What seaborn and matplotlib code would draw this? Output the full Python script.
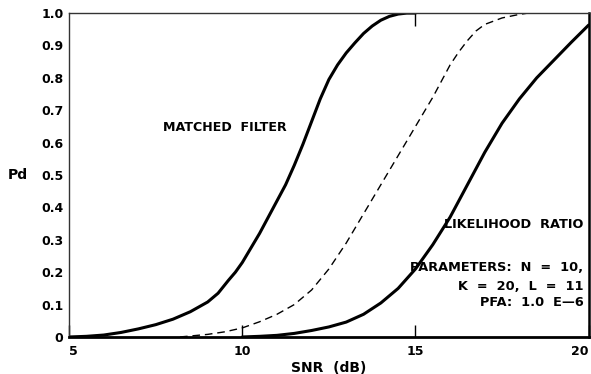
import numpy as np
import pandas as pd
import matplotlib
matplotlib.use("Agg")
import matplotlib.pyplot as plt
import seaborn as sns

# curve values
mf_snr = [5, 5.5, 6, 6.5, 7, 7.5, 8, 8.5, 9, 9.3, 9.6, 9.8, 10, 10.25, 10.5, 10.75, 11, 11.25, 11.5,
          11.75, 12, 12.25, 12.5, 12.75, 13, 13.25, 13.5, 13.75, 14, 14.25, 14.5, 14.75, 15]
mf_pd = [0.0, 0.002, 0.006, 0.014, 0.025, 0.038, 0.055, 0.078, 0.108, 0.135, 0.175, 0.2, 0.23, 0.275, 0.32,
         0.37, 0.42, 0.47, 0.53, 0.595, 0.665, 0.735, 0.795, 0.84, 0.877, 0.908, 0.937, 0.96, 0.978, 0.99,
         0.997, 1.0, 1.0]

mid_snr = [8.2, 8.5, 9, 9.5, 10, 10.5, 11, 11.5, 12, 12.5, 13, 13.5, 14, 14.5, 15, 15.5, 16, 16.25,
           16.5, 16.75, 17, 17.5, 18, 18.25]
mid_pd = [0.0, 0.003, 0.008, 0.016, 0.028, 0.047, 0.07, 0.1, 0.145, 0.21, 0.29, 0.38, 0.47, 0.56, 0.65,
          0.74, 0.84, 0.88, 0.915, 0.945, 0.965, 0.985, 0.996, 1.0]

lr_snr = [10, 10.5, 11, 11.5, 12, 12.5, 13, 13.5, 14, 14.5, 15, 15.5, 16, 16.5, 17, 17.5, 18, 18.5,
          19, 19.5, 20]
lr_pd = [0.0, 0.002, 0.005, 0.011, 0.02, 0.031, 0.046, 0.07, 0.105, 0.15, 0.21, 0.285, 0.37, 0.47, 0.57,
         0.66, 0.735, 0.8, 0.855, 0.91, 0.963]

x_ticks = [5, 10, 15, 20]
y_ticks = [0, 0.1, 0.2, 0.3, 0.4, 0.5, 0.6, 0.7, 0.8, 0.9, 1.0]
y_labels = ["0", "0.1", "0.2", "0.3", "0.4", "0.5", "0.6", "0.7", "0.8", "0.9", "1.0"]

sns.set_style("white")
plt.rcParams["font.family"] = ["DejaVu Sans"]
plt.rcParams["font.weight"] = "bold"
for key in ["text.color", "axes.labelcolor", "xtick.color", "ytick.color"]:
    plt.rcParams[key] = "black"

fig = plt.figure(figsize=(5.91, 3.74), dpi=100)
ax = fig.add_axes([0.117, 0.099, 0.879, 0.866])

mf = pd.DataFrame({"snr": mf_snr, "pd": mf_pd})
mid = pd.DataFrame({"snr": mid_snr, "pd": mid_pd})
lr = pd.DataFrame({"snr": lr_snr, "pd": lr_pd})

sns.lineplot(data=mf, x="snr", y="pd", ax=ax, color="black", lw=2.2)
sns.lineplot(data=mid, x="snr", y="pd", ax=ax, color="black", lw=1.0, linestyle=(0, (5.5, 3.5)))
sns.lineplot(data=lr, x="snr", y="pd", ax=ax, color="black", lw=2.2)

ax.set_xlim(5, 20)
ax.set_ylim(0, 1.0)
ax.set_xticks(x_ticks)
xl = ax.set_xticklabels([str(t) for t in x_ticks], fontsize=9, fontweight="bold")
xl[0].set_ha("left")
xl[-1].set_ha("right")
ax.set_yticks(y_ticks)
ax.set_yticklabels(y_labels, fontsize=9, fontweight="bold")
ax.tick_params(axis="x", bottom=True, direction="in", length=9, width=1, pad=6, color="black")
ax.tick_params(axis="y", length=0, pad=4)

top = ax.secondary_xaxis("top")
top.set_xticks([15])
top.set_xticklabels([])
top.tick_params(top=True, direction="in", length=9, width=1, color="black")
top.spines["top"].set_visible(False)

ax.set_xlabel("SNR  (dB)", fontsize=10, fontweight="bold", va="center")
ax.xaxis.set_label_coords(0.5, -0.097)
ax.set_ylabel("Pd", fontsize=10, fontweight="bold", rotation=0, va="center", ha="center")
ax.yaxis.set_label_coords(-0.098, 0.5)

for side in ["left", "top"]:
    ax.spines[side].set_linewidth(1.0)
    ax.spines[side].set_color("#333333")
ax.spines["bottom"].set_linewidth(2.0)
ax.spines["bottom"].set_color("black")
ax.spines["right"].set_linewidth(1.8)
ax.spines["right"].set_color("black")

fs = 9.3
ax.text(7.7, 0.648, "MATCHED  FILTER", fontsize=9.1, fontweight="bold", va="center", ha="left")
ax.text(19.85, 0.348, "LIKELIHOOD  RATIO", fontsize=fs, fontweight="bold", va="center", ha="right")
ax.text(19.85, 0.215, "PARAMETERS:  N  =  10,", fontsize=fs, fontweight="bold", va="center", ha="right")
ax.text(19.85, 0.157, "K  =  20,  L  =  11", fontsize=fs, fontweight="bold", va="center", ha="right")
ax.text(19.85, 0.105, "PFA:  1.0  E\u20146", fontsize=fs, fontweight="bold", va="center", ha="right")

fig.savefig("out.png", dpi=100)
